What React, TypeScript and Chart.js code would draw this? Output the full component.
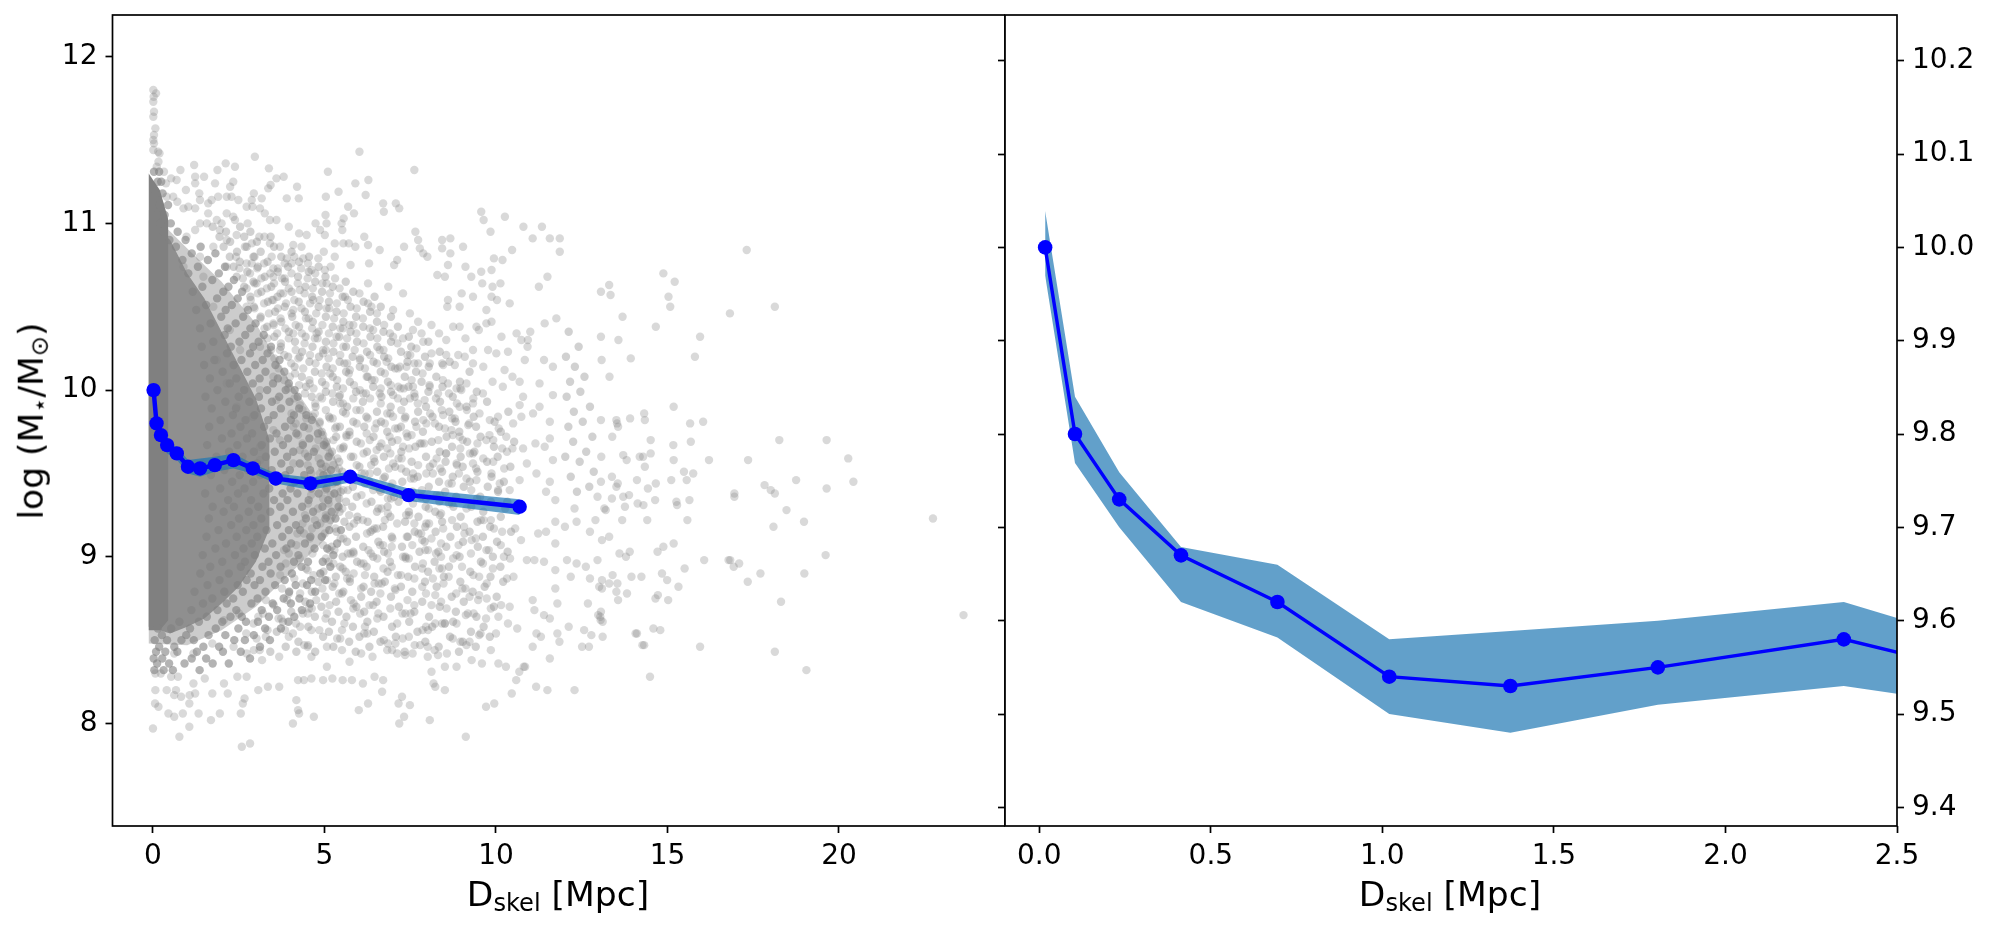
import React, { useEffect, useRef } from "react";
import { Chart, registerables } from "chart.js";

Chart.register(...registerables);

// Mean trend with its uncertainty band
const trendX = [0.017, 0.104, 0.233, 0.413, 0.694, 1.02, 1.373, 1.803, 2.345, 2.91, 3.58, 4.59, 5.75, 7.45, 10.69];
const trendY = [10.0, 9.8, 9.73, 9.67, 9.62, 9.54, 9.53, 9.55, 9.58, 9.53, 9.47, 9.44, 9.48, 9.37, 9.3];
const bandHigh = [10.039, 9.84, 9.759, 9.679, 9.66, 9.58, 9.589, 9.6, 9.62, 9.558, 9.5, 9.475, 9.51, 9.41, 9.345];
const bandLow = [9.97, 9.769, 9.7, 9.62, 9.582, 9.5, 9.48, 9.51, 9.53, 9.5, 9.44, 9.4, 9.445, 9.335, 9.25];

// Tick values
const leftXTicks = [0, 5, 10, 15, 20];
const leftYTicks = [8, 9, 10, 11, 12];
const rightXTicks = [0, 0.5, 1, 1.5, 2, 2.5];
const rightYTicks = [9.4, 9.5, 9.6, 9.7, 9.8, 9.9, 10.0, 10.1, 10.2];

// Individually read galaxies: far-right sparse part
const cloudFar: number[][] = [
[14.88,10.7],[15.21,10.65],[13.3,10.63],[13.06,10.59],[13.34,10.57],[15.03,10.56],[15.08,10.5],[16.82,10.46],[18.13,10.5],[13.69,10.44],[14.66,10.38],[13.06,10.32],[15.95,10.32],[13.57,10.3],[15.8,10.2],[13.93,10.19],[13.08,10.18],[13.31,10.08],[17.31,10.84],
[15.18,9.9],[14.32,9.86],[14.34,9.82],[13.91,9.83],[13.51,9.82],[13.53,9.8],[13.56,9.78],[13.06,9.82],[15.66,9.8],[16.04,9.81],[13.39,9.72],[14.51,9.7],[15.17,9.67],[15.68,9.69],[18.26,9.7],[19.64,9.7],[20.27,9.59],[13.71,9.61],[13.81,9.58],[14.19,9.6],[14.29,9.6],[14.51,9.62],[14.34,9.54],[15.18,9.58],[16.21,9.58],[17.35,9.58],[13.07,9.6],[15.48,9.51],[15.75,9.5],[13.38,9.48],[14.11,9.46],[15.11,9.46],[15.56,9.46],[14.66,9.44],[13.06,9.45],[13.55,9.44],[13.51,9.42],[14.43,9.41],[17.83,9.43],[18.01,9.4],[18.13,9.38],[18.75,9.46],[19.64,9.41],[20.42,9.45],[16.95,9.38],[16.95,9.36],[13.38,9.35],[13.71,9.36],[13.88,9.37],[14.64,9.34],[15.26,9.33],[15.28,9.31],[15.64,9.34],[14.13,9.32],[14.3,9.31],[13.76,9.3],[13.16,9.29],[13.2,9.28],[18.47,9.28],[13.68,9.22],[14.41,9.22],[15.58,9.22],[18.98,9.21],[18.09,9.18],[22.74,9.23],[13.3,9.12],[13.09,9.1],[15.18,9.08],[14.88,9.06],[14.71,9.03],[13.9,9.03],[13.6,9.02],[13.79,9.0],[19.61,9.01],[16.07,8.98],[16.78,8.98],[16.83,8.98],[16.93,8.94],[17.09,8.96],[15.5,8.93],[14.84,8.9],[13.4,8.89],[13.95,8.88],[14.24,8.88],[14.99,8.86],[17.71,8.9],[18.99,8.9],[17.34,8.85],[13.09,8.86],[13.3,8.84],[13.54,8.84],[13.09,8.81],[15.32,8.82],[13.51,8.79],[13.82,8.78],[14.72,8.77],[14.65,8.75],[15.02,8.74],[13.56,8.74],[18.31,8.73],[13.06,8.67],[13.04,8.64],[13.11,8.61],[13.11,8.52],[14.59,8.57],[14.79,8.56],[14.11,8.54],[14.32,8.47],[15.95,8.46],[18.13,8.43],[23.63,8.65],[14.49,8.28],[19.05,8.32],
];

// Upper part of the cloud
const cloudUpper: number[][] = [
[0.01,11.8],[0.09,11.78],[0.02,11.76],[0.01,11.73],[0.03,11.67],[0.01,11.64],[0.07,11.57],[0.03,11.53],[0.01,11.5],[0.03,11.48],[0.01,11.44],[0.15,11.43],[0.19,11.42],[0.16,11.37],[0.11,11.34],
[0.32,11.31],[0.53,11.27],[0.38,11.24],[0.69,11.26],[0.8,11.32],[1.2,11.35],[1.23,11.28],[1.23,11.24],[1.49,11.28],[1.81,11.24],[1.88,11.32],[2.12,11.36],[2.39,11.34],[2.34,11.25],[2.25,11.22],[2.97,11.4],[3.38,11.33],[3.43,11.23],[3.36,11.21],[3.6,11.27],[3.81,11.28],[4.2,11.22],[4.25,11.15],[3.9,11.15],[5.04,11.16],[5.1,11.31],[5.41,11.19],[5.9,11.24],[6.28,11.26],[6.2,11.17],[6.02,11.43],[7.62,11.32],[6.71,11.12],[6.73,11.07],[7.08,11.12],[7.18,11.09],[9.57,11.07],[9.64,11.02],[10.26,11.04],[9.84,10.95],[10.8,10.98],[11.34,10.98],[11.07,10.91],[11.57,10.91],[11.86,10.91],
[0.96,11.2],[0.59,11.16],[0.4,11.16],[0.71,11.13],[0.89,11.09],[1.03,11.1],[1.23,11.09],[1.35,11.18],[1.37,11.14],[1.61,11.12],[1.71,11.14],[1.9,11.16],[2.15,11.16],[2.29,11.16],[2.49,11.14],[2.94,11.18],[2.88,11.14],[3.17,11.15],[2.73,11.1],[2.9,11.1],[3.12,11.09],[3.26,11.06],[3.41,11.02],[3.6,11.02],[2.76,11.0],[2.15,11.06],[2.34,11.04],[2.39,11.02],[1.86,11.02],[2.0,11.0],[1.61,11.06],[1.37,11.0],[1.57,11.0],[1.95,10.96],[2.44,10.93],[2.68,10.86],[2.15,10.9],[0.98,10.92],[1.23,10.96],[3.96,10.98],[4.26,10.94],[4.74,11.0],[5.03,11.05],[5.06,11.0],[5.5,11.0],[5.56,11.03],[5.69,11.1],[5.86,11.06],[5.52,10.96],[5.01,10.93],[4.87,10.96],[4.48,10.93],[4.33,10.86],[4.09,10.87],[3.9,10.79],[3.7,10.86],[3.41,10.88],[3.1,10.92],[3.25,10.92],[2.88,10.88],[6.16,10.92],[6.27,10.87],[6.61,10.84],[7.32,10.86],[7.65,10.95],[7.73,10.9],[7.78,10.85],[7.88,10.82],[8.0,10.8],[8.43,10.9],[8.67,10.91],[8.43,10.85],[8.67,10.82],[9.04,10.86],[10.47,10.84],[9.94,10.79],[10.19,10.78],[11.86,10.83],
[5.3,10.88],[5.55,10.88],[5.71,10.88],[5.9,10.86],[4.98,10.83],[4.82,10.79],[5.3,10.8],[7.12,10.78],[7.03,10.75],[6.3,10.76],[5.76,10.75],[5.01,10.72],[5.18,10.74],[4.38,10.79],[4.62,10.72],[4.04,10.76],[3.51,10.73],
[8.29,10.69],[8.51,10.68],[8.6,10.75],[9.11,10.74],[9.87,10.72],[9.57,10.71],[9.28,10.68],[9.6,10.64],[10.13,10.64],[9.9,10.62],[11.5,10.68],[11.25,10.62],[9.0,10.58],[9.33,10.56],[9.87,10.56],[10.03,10.54],[10.4,10.52],[8.6,10.54],[8.94,10.5],[8.58,10.5],[9.72,10.48],[11.76,10.43],[11.42,10.4],
];

// Middle part of the cloud, around the trend line
const cloudMiddle: number[][] = [
[10.6,10.34],[11.0,10.35],[10.74,10.3],[10.93,10.3],[10.16,10.32],[9.87,10.41],[9.72,10.4],[9.43,10.38],[9.5,10.36],[8.75,10.38],[8.94,10.38],[8.12,10.39],[7.73,10.41],[7.58,10.36],[8.34,10.34],[8.55,10.3],[9.11,10.31],[7.88,10.29],[9.33,10.24],[9.77,10.24],[10.01,10.22],[10.35,10.23],[10.92,10.26],[8.55,10.21],[8.9,10.21],[9.09,10.2],[8.12,10.22],[7.68,10.25],[7.39,10.14],[7.73,10.16],[8.07,10.16],[8.46,10.15],[8.8,10.15],[9.33,10.16],[9.63,10.14],[10.25,10.12],[10.84,10.18],[11.4,10.18],[11.66,10.14],[10.48,10.08],[10.69,10.05],[9.9,10.05],[9.14,10.04],[8.6,10.04],[8.07,10.02],[7.58,10.02],[7.15,10.02],[10.2,10.02],[11.27,10.04],[11.66,9.97],[10.79,9.96],[9.62,9.98],[8.99,10.0],[8.85,10.01],[8.31,9.98],[7.92,9.94],[7.49,9.95],[7.0,9.97],[9.33,9.92],[10.69,9.91],[11.27,9.9],[11.08,9.86],[11.57,9.81],[10.74,9.84],[10.06,9.84],[10.5,9.8],[9.82,9.82],[8.94,9.9],[8.46,9.85],[7.88,9.82],[7.39,9.74],[7.68,9.78],[8.22,9.8],[8.7,9.76],[9.19,9.79],[9.72,9.7],[9.92,9.7],[10.3,9.72],[11.15,9.68],[11.42,9.66],[11.57,9.71],[10.79,9.65],[10.48,9.65],[10.32,9.63],[8.55,9.62],[9.33,9.62],[8.94,9.72],[7.78,9.68],[8.17,9.56],[8.85,9.56],[9.33,9.56],[9.92,9.57],[10.9,9.56],[11.66,9.58],[10.69,9.46],[11.18,9.5],[10.4,9.4],[11.57,9.45],[10.11,9.44],[7.97,9.5],[9.43,9.46],
[3.51,10.54],[4.09,10.48],[4.67,10.54],[5.06,10.64],[5.6,10.56],[6.27,10.64],[6.86,10.62],[7.29,10.58],[7.49,10.46],[7.0,10.48],[6.37,10.5],[5.84,10.39],[6.42,10.36],[7.0,10.32],[7.29,10.31],[5.35,10.32],[4.77,10.34],[4.09,10.34],[3.51,10.4],[3.12,10.26],[3.7,10.24],[4.28,10.2],[4.96,10.22],[5.55,10.26],[6.03,10.18],[6.61,10.24],[7.2,10.14],[6.81,10.17],[6.23,10.08],[5.74,10.12],[5.16,10.1],[4.57,10.04],[3.99,10.08],[3.51,10.08],[3.12,10.0],[3.6,9.94],[4.28,9.91],[4.87,9.96],[5.45,9.97],[6.03,10.0],[6.61,9.98],[7.0,9.84],[6.52,9.8],[5.93,9.88],[5.35,9.78],[4.67,9.84],[4.09,9.78],[3.51,9.76],[2.92,9.84],[2.44,9.9],[2.15,10.04],[1.86,10.18],[2.54,10.24],[2.24,10.36],[2.73,10.5],[3.02,10.64],[3.51,10.68],[4.28,10.6],[1.76,10.5],[1.47,10.68],[2.15,10.74],[2.88,10.76],[0.89,10.74],[1.37,10.8],[1.76,10.86],[3.12,9.66],[3.7,9.7],[4.28,9.64],[5.06,9.66],[5.64,9.72],[6.23,9.74],[6.9,9.72],[7.29,9.66],[6.52,9.64],[5.84,9.6],[7.0,9.56],[7.58,9.5],[6.32,9.5],[4.87,9.5],[4.09,9.56],[3.12,9.58],[5.55,9.4],[6.61,9.4],
];

// Lower part of the cloud
const cloudLower: number[][] = [
[0,7.97],[0.77,7.92],[1.06,7.98],[2.59,7.86],[2.83,7.88],[4.08,8.0],[4.69,8.04],[4.26,8.06],[4.23,8.08],[4.18,8.14],[6.0,8.08],[6.27,8.12],[7.18,8.0],[7.32,8.04],[8.07,8.02],[7.16,8.12],[7.26,8.16],[7.49,8.11],[9.12,7.92],[9.71,8.1],[9.95,8.12],[10.46,8.18],[8.51,8.2],[8.18,8.24],[8.23,8.22],[11.17,8.22],[11.5,8.2],[12.29,8.2],[10.59,8.26],[10.68,8.31],[10.81,8.34],[0.45,8.06],[0.62,8.04],[0.87,8.06],[1.33,8.06],[1.69,8.02],[1.95,8.06],[2.56,8.06],[2.62,8.12],[2.67,8.15],[0.07,8.2],[0.06,8.12],[0.16,8.1],[0.4,8.2],[0.67,8.2],[0.62,8.17],[0.82,8.16],[1.06,8.12],
[11.07,8.74],[11.12,8.68],[11.4,8.65],[11.57,8.63],[11.79,8.72],[12.68,8.72],[12.98,8.65],[13.05,8.62],[12.12,8.58],[12.57,8.56],[12.78,8.53],[11.18,8.54],[11.31,8.52],[11.79,8.54],[11.85,8.49],[12.51,8.46],[12.71,8.46],[14.07,8.54],[14.27,8.47],[11.57,8.39],[11.07,8.46],[10.85,8.34],[11.73,9.08],[11.23,9.14],[11.46,9.15],[12.35,9.21],[12.01,9.18],[12.74,9.15],[11.73,9.21],[12.29,9.29],[12.9,9.22],[11.73,9.34],[11.46,9.39],[12.96,9.36],[12.96,8.98],[12.07,8.98],[12.35,8.96],[12.62,8.94],[11.73,8.92],[11.4,8.97],[11.12,8.98],[10.9,8.98],[11.73,8.81],[12.18,8.88],[12.74,8.87],[13.01,8.82],
[7.07,8.8],[7.62,8.71],[7.51,8.66],[8.23,8.77],[8.4,8.73],[7.96,8.58],[8.23,8.6],[8.51,8.6],[8.85,8.6],[9.12,8.65],[9.35,8.66],[9.23,8.76],[9.51,8.77],[9.73,8.75],[9.85,8.69],[10.07,8.64],[10.35,8.6],[10.62,8.57],[10.0,8.54],[9.51,8.53],[9.23,8.49],[8.96,8.49],[9.85,8.44],[10.07,8.36],[10.29,8.34],[9.29,8.38],[9.59,8.36],[8.85,8.34],[8.57,8.42],[8.31,8.41],[8.01,8.46],[7.79,8.47],[8.01,8.4],[8.12,8.31],[8.51,8.34],[7.57,8.42],[7.35,8.41],[7.12,8.42],[6.85,8.48],[6.73,8.5],[7.07,8.48],[7.46,8.52],[6.71,8.26],[6.46,8.28],[6.68,8.19],[6.12,8.24],[5.8,8.26],[5.53,8.26],[5.23,8.27],[4.96,8.26],[4.62,8.27],[4.4,8.26],[4.23,8.26],[3.68,8.22],[3.35,8.22],[3.07,8.2],[2.73,8.28],[2.46,8.28],[2.18,8.18],[1.73,8.18],[1.23,8.18],[1.07,8.17],[2.07,8.24],[1.51,8.27],[1.18,8.24],[0.07,8.3],[0.23,8.3],[0.53,8.28],[0.73,8.28],
[4.62,8.4],[5.07,8.34],[5.51,8.44],[5.07,8.46],[5.73,8.37],[6.07,8.42],[6.4,8.4],[4.51,8.46],[3.96,8.52],[3.68,8.4],[3.18,8.38],[2.73,8.42],[2.35,8.46],[1.73,8.48],[1.18,8.42],[0.62,8.42],[3.29,8.52],[4.29,8.58],[4.85,8.56],[5.51,8.56],[6.18,8.58],[6.57,8.66],[5.85,8.72],[5.07,8.66],[4.51,8.66],[3.85,8.56],[3.07,8.64],[2.51,8.66],[2.07,8.62],[6.96,8.94],[7.29,9.0],[7.85,8.93],[8.4,9.0],[8.85,9.01],[9.01,8.94],[9.51,8.88],[10.23,9.0],[10.51,8.88],[10.4,8.7],[8.62,8.88],[7.85,8.82],[6.46,8.84],[5.85,8.9],[5.29,9.04],[5.85,9.02],[6.35,9.02],[6.4,9.16],[6.96,9.06],[7.4,9.12],[7.85,9.1],[8.4,9.08],[9.29,9.1],[9.79,9.04],[10.18,9.15],[10.73,9.1],[9.85,9.22],[9.07,9.18],[8.4,9.26],[7.62,9.2],[6.85,9.26],[5.96,9.22],[5.07,9.24],[4.4,9.14],[3.96,9.02],[4.51,8.92],[5.07,8.86],[3.96,8.78],[3.29,8.74],
];

// Crowded zone: estimated, irregular rows following the picture's local density ([y, x, x, ...])
const crowdedRows: number[][] = [
[8.32,0.04,0.31,0.58,1.36],[8.36,0.12,0.47,0.92,1.74,2.21],[8.39,0.02,0.27,1.13,1.55,2.83],[8.43,0.09,0.36,0.71,1.28,2.04,2.56],[8.46,0.18,0.62,1.47,1.93,3.12],[8.5,0.05,0.41,0.83,1.19,2.37,2.68,3.41],[8.53,0.26,0.97,1.62,2.11,2.94],[8.57,0.14,0.53,1.08,1.83,2.49,3.27,3.73],[8.61,0.77,1.34,2.02,2.71,3.06,3.95],[8.64,1.57,2.26,2.59,3.38,4.12],[8.68,1.12,1.88,2.43,3.17,3.62,4.34],[8.72,1.46,2.15,2.87,3.49,4.02,4.58],[8.75,1.73,2.34,3.05,3.81,4.27],[8.79,1.21,2.08,2.62,3.28,3.97,4.73],[8.83,1.59,2.47,2.96,3.56,4.16,4.49],[8.86,1.94,2.73,3.12,3.84,4.61,5.02],[8.9,1.38,2.21,2.85,3.43,4.05,4.88],[8.94,1.67,2.56,3.19,3.72,4.33,5.17],[8.97,2.02,2.68,3.37,4.11,4.52,4.95],[9.01,1.45,2.39,2.97,3.59,4.24,5.26],[9.05,1.82,2.64,3.26,3.89,4.71,5.08],[9.08,2.13,2.88,3.48,4.03,4.43,5.37],[9.12,1.56,2.44,3.04,3.77,4.59,4.92],[9.16,1.91,2.72,3.31,3.96,4.29,5.14,5.48],[9.19,2.28,2.93,3.62,4.17,4.78],[9.23,1.63,2.51,3.16,3.83,4.46,5.03,5.32],[9.27,2.06,2.79,3.42,4.08,4.67,5.21],[9.3,1.74,2.36,3.07,3.71,4.35,4.94,5.41],[9.34,2.19,2.86,3.53,3.92,4.54,5.11],[9.38,1.52,2.48,3.22,3.78,4.21,4.83,5.29],[9.41,1.96,2.67,3.39,4.01,4.62,5.06],[9.45,2.31,2.92,3.58,4.14,4.76,5.35],[9.49,1.69,2.53,3.13,3.86,4.41,4.97],[9.52,2.08,2.77,3.46,3.99,4.58,5.19],[9.56,1.43,2.38,3.03,3.74,4.28,4.89],[9.6,1.85,2.61,3.29,3.91,4.52,5.12],[9.63,2.22,2.94,3.55,4.09,4.69],[9.67,1.58,2.46,3.17,3.79,4.37,4.98],[9.71,2.01,2.74,3.41,3.94,4.56],[9.74,2.29,2.89,3.6,4.18,4.81],[9.78,1.64,2.55,3.24,3.85,4.4],[9.82,1.97,2.7,3.36,4.02,4.63],[9.85,2.33,2.96,3.52,4.11,4.47],[9.89,1.71,2.42,3.15,3.73,4.26],[9.93,2.11,2.81,3.47,3.98],[9.96,1.53,2.5,3.09,3.68,4.22],[10.0,1.88,2.66,3.33,3.87,4.13],[10.04,2.24,2.91,3.5,3.96],[10.07,1.66,2.43,3.11,3.64],[10.11,2.03,2.75,3.28,3.83],[10.15,1.49,2.35,2.98,3.57],[10.18,1.79,2.58,3.2,3.69],[10.22,2.16,2.83,3.34],[10.26,1.42,2.27,2.92,3.44],[10.29,1.76,2.52,3.08],[10.33,2.09,2.69,3.23],[10.37,1.37,2.18,2.84],[10.4,1.68,2.41,2.99],[10.44,1.99,2.63],[10.48,1.26,2.12,2.77],[10.51,1.55,2.3],[10.55,1.87,2.47],[10.59,1.16,2.05,2.6],[10.62,1.44,2.2],[10.66,1.73,2.36],[10.7,1.03,1.92],[10.74,1.31,2.1],[10.78,0.86,1.6],[10.82,1.13,1.82],[10.86,0.67,1.39],[10.9,0.48,0.95],[10.95,0.31,0.72],[11.0,0.21,0.52],[11.05,0.1,0.34],[11.11,0.2,0.44],[11.18,0.08,0.28],[11.25,0.14,0.24],[11.31,0.03,0.18],
];

// Mid-density zone: estimated the same way
const spreadRows: number[][] = [
[8.43,3.42,4.18,4.73,5.91,7.34,8.92],[8.46,3.87,5.26,6.31,8.33,9.41],[8.49,4.24,5.72,6.63,7.94,9.03],[8.52,4.96,6.02,7.08,8.66,9.82],[8.55,3.61,5.13,6.44,7.71,9.27],[8.58,4.53,5.83,6.97,8.14,9.64],[8.61,3.79,5.22,6.25,7.47,8.75],[8.64,4.72,5.64,6.72,8.05,9.43],[8.67,4.03,5.41,6.16,7.62,8.83],[8.7,4.91,5.93,7.17,8.36,9.94],[8.73,4.44,5.34,6.52,7.85,9.06],[8.76,5.02,6.07,6.94,8.71,10.02],[8.79,4.63,5.55,6.36,7.56,9.32],[8.82,5.24,6.14,7.23,8.27,9.67],[8.85,4.82,5.74,6.76,7.93,8.96,10.21],[8.88,5.33,6.45,7.44,8.48,9.84],[8.91,4.97,5.62,6.84,8.02,9.25],[8.94,5.46,6.23,7.64,8.63,10.13],[8.97,5.12,5.95,6.91,8.21,9.56],[9.0,5.53,6.42,7.36,8.94,9.91],[9.03,5.84,6.74,7.77,8.32,10.34],[9.06,5.21,6.13,7.26,8.55,9.47],[9.09,5.66,6.57,7.92,9.04,10.03],[9.12,5.92,6.96,7.43,8.67,9.62],[9.15,5.35,6.34,7.63,8.24,9.23,10.44],[9.18,5.73,6.71,7.94,8.86,9.83],[9.21,5.58,6.26,7.35,8.43,9.46],[9.24,5.96,6.92,7.74,8.97,10.14],[9.27,5.44,6.53,7.46,8.23,9.63],[9.3,5.81,6.84,7.95,8.76,9.28],[9.33,5.63,6.37,7.16,8.35,9.85,10.33],[9.36,5.94,7.03,7.82,8.84,9.54],[9.39,5.47,6.64,7.57,8.52,10.06,12.36],[9.42,5.83,6.93,8.04,9.06,9.76,12.72],[9.45,5.36,6.31,7.27,8.34,9.24,10.23],[9.48,5.75,6.76,7.72,8.74,9.87,12.18],[9.51,5.52,6.54,7.38,8.43,9.46,12.85],[9.54,5.04,6.02,7.06,8.07,9.03,10.42],[9.57,5.43,6.46,7.54,8.53,9.74,12.44],[9.6,5.77,6.73,7.96,8.97,10.05,12.02],[9.63,5.22,6.24,7.24,8.36,9.37,12.63],[9.66,5.56,6.61,7.65,8.72,9.94],[9.69,5.06,5.94,6.97,8.13,9.16,10.53,12.25],[9.72,5.34,6.43,7.42,8.56,9.55,12.81],[9.75,4.92,5.73,6.83,7.87,8.93,10.14],[9.78,5.45,6.16,7.23,8.34,9.42,12.11],[9.81,4.86,5.84,6.65,7.64,8.82,9.96,12.53],[9.84,5.13,6.22,7.36,8.15,9.35],[9.87,5.54,6.53,7.73,8.64,10.36,12.27],[9.9,4.74,5.66,6.93,7.96,9.14,12.74],[9.93,5.25,6.12,7.32,8.37,9.74],[9.96,4.63,5.43,6.66,7.63,8.74,12.06],[9.99,5.04,5.92,6.94,8.03,9.44,12.46],[10.02,4.46,5.36,6.42,7.45,8.44],[10.05,4.93,5.74,6.85,7.83,8.95,12.16],[10.08,4.34,5.24,6.26,7.34,8.26,12.58],[10.11,4.72,5.63,6.64,7.67,9.23],[10.14,4.13,5.06,6.03,6.95,8.04,12.3],[10.17,4.56,5.44,6.43,7.42,8.65],[10.2,3.94,4.84,5.82,6.74,7.93,12.04],[10.23,4.35,5.26,6.24,7.23,8.36],[10.26,3.73,4.65,5.63,6.54,7.53,12.41],[10.29,4.14,5.04,5.95,6.94,8.03],[10.32,3.54,4.45,5.43,6.34,7.46],[10.35,3.96,4.83,5.76,6.72,12.12],[10.38,3.33,4.26,5.24,6.13,7.14],[10.41,3.74,4.66,5.55,6.53],[10.44,3.14,4.06,5.04,5.92,6.94],[10.47,3.56,4.43,5.35,6.33],[10.5,2.94,3.84,4.83,5.76,6.64],[10.53,3.35,4.25,5.13,6.14],[10.56,2.84,3.63,4.64,5.53,6.46],[10.59,3.16,4.04,4.93,5.84],[10.62,2.66,3.45,4.44,5.24],[10.65,2.93,3.85,4.73,5.62],[10.68,2.44,3.26,4.23,5.03],[10.71,2.75,3.64,4.54],[10.74,2.35,3.06,3.94,4.83],[10.77,2.53,3.34,4.26],[10.8,2.24,2.93,3.74,4.55],[10.83,2.45,3.14,4.04],[10.86,2.06,2.73,3.53],[10.89,2.25,3.03],[10.92,1.94,2.66,3.43],[10.95,2.13,2.84],[10.98,1.74,2.54],
];

// Further estimated rows that fill the mid zone, deliberately uneven, with clumps and gaps
const clumpRows: number[][] = [
[8.44,2.94,3.11,6.83,6.97,8.21],[8.47,4.41,4.52,7.63,9.14],[8.51,3.02,5.37,5.46,7.28,8.74],[8.54,2.72,4.08,6.16,6.25,9.55],[8.56,3.34,4.62,7.86,8.02],[8.6,2.93,4.17,5.58,7.12,8.43,8.51],[8.63,3.66,3.74,5.03,6.54,9.71],[8.66,3.21,4.37,6.04,7.27,7.36,9.18],[8.69,4.55,4.63,5.84,6.92,8.56],[8.71,3.52,5.15,6.31,6.42,8.12,10.15],[8.74,3.91,4.76,5.77,7.42,9.48],[8.78,4.29,5.43,5.51,6.63,7.96,8.84],[8.81,3.76,4.94,6.07,7.05,9.02,9.11],[8.84,4.37,5.29,6.58,6.67,8.47,9.73],[8.87,4.12,5.66,5.74,7.62,8.16,10.32],[8.89,3.71,4.68,6.18,7.14,7.23,9.34],[8.93,4.46,5.53,6.72,8.35,8.43,9.91],[8.96,3.87,5.26,6.06,6.14,7.87,9.62],[8.99,4.28,5.04,6.54,7.37,7.46,8.75,10.41],[9.02,4.65,5.68,5.76,6.85,8.25,9.27],[9.04,3.82,5.15,6.28,7.94,8.02,9.72],[9.07,4.18,4.96,6.62,6.71,7.56,8.91,10.14],[9.11,4.57,5.47,5.55,6.98,8.12,9.41],[9.14,4.21,5.01,6.24,7.74,7.82,9.08],[9.17,4.64,5.32,6.46,6.53,8.46,9.94,10.56],[9.2,4.36,4.88,5.86,7.12,7.97,8.05],[9.22,4.72,5.17,6.12,6.76,8.72,9.56,9.64],[9.25,4.43,5.04,5.72,7.38,7.47,8.36],[9.29,4.81,5.52,6.57,6.66,8.04,9.14,10.27],[9.32,4.52,5.12,6.23,7.58,8.63,8.72],[9.35,4.96,5.43,6.85,6.94,7.96,9.45],[9.37,4.61,5.18,6.08,7.29,8.27,8.36],[9.4,5.02,5.68,6.42,7.84,9.28,10.06],[9.44,4.73,5.24,6.18,6.98,8.62,8.71],[9.47,5.14,5.86,6.72,7.52,7.61,9.14],[9.5,4.62,5.08,6.09,6.17,8.16,8.92,9.87],[9.53,4.94,5.42,6.88,7.24,8.38,9.42,10.24],[9.55,4.51,5.26,5.94,6.36,7.73,8.86],[9.59,4.83,5.38,6.44,7.16,7.25,8.27,9.63],[9.62,4.43,5.16,6.14,6.92,8.54,9.24],[9.65,4.74,5.46,5.54,6.83,7.47,8.96,10.18],[9.68,4.36,5.03,6.06,6.66,7.83,7.91,9.46],[9.7,4.82,5.26,6.32,7.13,8.32,9.03],[9.73,4.23,4.96,5.64,5.73,7.54,8.74,9.81],[9.77,4.54,5.31,6.47,7.06,7.14,8.51,10.08],[9.8,4.16,4.86,5.94,6.76,7.97,9.22],[9.83,4.47,5.16,5.24,6.26,7.34,8.72,8.8],[9.86,4.04,4.72,5.62,6.83,6.92,8.08,9.52],[9.88,4.36,5.04,6.04,7.24,8.42,9.15],[9.92,4.73,5.46,5.54,6.64,7.72,8.86],[9.95,4.12,4.93,5.84,6.33,7.14,8.25,9.34],[9.98,4.43,5.23,6.13,6.21,7.62,8.63],[10.01,3.94,4.68,5.54,6.64,7.22,7.31,8.96],[10.03,4.26,5.03,5.86,6.93,8.06],[10.06,3.82,4.56,5.37,6.38,6.46,7.54,8.45],[10.1,4.14,4.92,5.71,6.76,7.86],[10.13,3.66,4.38,5.24,6.18,7.06,7.14],[10.16,4.03,4.74,5.58,5.66,6.53,7.62,8.43],[10.19,3.54,4.24,5.12,6.04,6.86],[10.21,3.83,4.58,5.46,6.33,7.42,7.5],[10.24,3.44,4.16,4.96,5.04,5.88,6.72],[10.28,3.73,4.42,5.26,6.14,7.13],[10.31,3.34,3.96,4.72,4.8,5.66,6.54],[10.34,3.62,4.34,5.13,5.93,6.91,7.83],[10.37,3.25,3.86,4.64,5.46,5.54,6.32],[10.39,3.52,4.16,4.94,5.73,6.74],[10.43,3.13,3.72,4.46,4.54,5.28,6.12],[10.46,3.38,4.04,4.76,5.56,6.53],[10.49,2.96,3.64,4.33,5.06,5.14,5.94],[10.52,3.24,3.88,4.58,5.36,6.27],[10.54,2.85,3.47,4.12,4.86,5.68],[10.58,3.06,3.72,3.8,4.42,5.16,6.02],[10.61,2.73,3.32,3.96,4.66,5.44],[10.64,2.96,3.53,4.22,4.94],[10.67,2.62,3.16,3.76,3.84,4.51,5.31],[10.7,2.83,3.42,4.04,4.73],[10.73,2.52,3.04,3.64,4.32],[10.76,2.73,3.24,3.84,4.52],[10.8,2.42,2.96,3.46,4.12],
];

// Solid regions where dots merge completely
const columnX = [-0.13, 0.2, 0.45];
const columnHigh = [11.3, 11.2, 11.02];
const columnLow = [8.56, 8.56, 8.62];
const coreX = [-0.13, 0.5, 1, 1.5, 2, 2.5, 3, 3.4];
const coreHigh = [11.02, 10.9, 10.7, 10.55, 10.35, 10.15, 9.95, 9.7];
const coreLow = [8.58, 8.54, 8.58, 8.63, 8.72, 8.82, 8.97, 9.17];
const hazeX = [-0.13, 1, 2, 3, 4, 5, 5.5];
const hazeHigh = [11.08, 10.85, 10.65, 10.4, 10.05, 9.75, 9.5];
const hazeLow = [8.48, 8.47, 8.56, 8.7, 8.9, 9.1, 9.3];

const FONT = "'DejaVu Sans'";
const xy = (xs: number[], ys: number[]) => xs.map((x, i) => ({ x, y: ys[i] }));
const fromRows = (rows: number[][]) => rows.flatMap(([y, ...xs]) => xs.map((x) => ({ x, y })));

const spines = {
  id: "spines",
  afterDraw(chart: any) {
    const { ctx, chartArea: a } = chart;
    ctx.save();
    ctx.strokeStyle = "#000";
    ctx.lineWidth = 1.7;
    ctx.strokeRect(a.left, a.top, a.right - a.left, a.bottom - a.top);
    ctx.restore();
  },
};

const gridOpts = { display: true, drawOnChartArea: false, drawTicks: true, tickLength: 7, tickColor: "#000", tickWidth: 1.7 };
const axisBase = (values: number[], fmt: (v: number) => string, size: (s: any) => void, padding: number) => ({
  type: "linear" as const,
  grid: gridOpts,
  border: { display: false },
  afterBuildTicks: (s: any) => { s.ticks = values.map((value) => ({ value })); },
  afterFit: (s: any) => {
    size(s);
    s.paddingTop = 0; s.paddingBottom = 0; s.paddingLeft = 0; s.paddingRight = 0;
  },
  ticks: {
    color: "#000",
    padding,
    autoSkip: false,
    maxRotation: 0,
    font: { family: FONT, size: 28 },
    callback: (v: any) => fmt(Number(v)),
  },
});

const fillPair = (xs: number[], hi: number[], lo: number[], color: string, order: number) => [
  { data: xy(xs, hi), fill: "+1", backgroundColor: color, borderWidth: 0, pointRadius: 0, order },
  { data: xy(xs, lo), fill: false, borderWidth: 0, pointRadius: 0, order },
];

const baseOptions = {
  animation: false as const,
  responsive: false,
  events: [] as string[],
  plugins: { legend: { display: false }, tooltip: { enabled: false } },
};

export default function App() {
  const leftRef = useRef<HTMLCanvasElement>(null);
  const rightRef = useRef<HTMLCanvasElement>(null);

  useEffect(() => {
    const cloud = [...cloudFar, ...cloudUpper, ...cloudMiddle, ...cloudLower].map(([x, y]) => ({ x, y }));
    const band = "rgba(31,119,180,0.7)";
    const dots = (data: any[], alpha: number, order: number) => ({
      data, showLine: false, pointRadius: 4.2, pointBorderWidth: 0, pointBackgroundColor: `rgba(128,128,128,${alpha})`, order,
    });

    const left = new Chart(leftRef.current!, {
      type: "line",
      data: {
        datasets: [
          { data: xy(trendX, trendY), borderColor: "#0000ff", backgroundColor: "#0000ff", borderWidth: 4.5, pointRadius: 7.2, pointBorderWidth: 0, order: 0 },
          ...fillPair(trendX, bandHigh, bandLow, band, 1),
          dots(cloud, 0.3, 2),
          dots(fromRows(clumpRows), 0.3, 3),
          dots(fromRows(spreadRows), 0.36, 4),
          dots(fromRows(crowdedRows), 0.6, 5),
          ...fillPair(columnX, columnHigh, columnLow, "rgba(128,128,128,1)", 6),
          ...fillPair(coreX, coreHigh, coreLow, "rgba(128,128,128,0.8)", 7),
          ...fillPair(hazeX, hazeHigh, hazeLow, "rgba(128,128,128,0.4)", 8),
        ] as any,
      },
      options: {
        ...baseOptions,
        layout: { autoPadding: false, padding: { top: 15, left: 0, right: 0, bottom: 0 } },
        scales: {
          x: { ...axisBase(leftXTicks, (v) => String(v), (s) => { s.height = 104; }, 7), min: -1.18, max: 24.84 },
          y: { ...axisBase(leftYTicks, (v) => String(v), (s) => { s.width = 112.5; }, 8), min: 7.385, max: 12.25 },
        },
      } as any,
      plugins: [spines],
    });

    const right = new Chart(rightRef.current!, {
      type: "line",
      data: {
        datasets: [
          { data: xy(trendX, trendY), yAxisID: "y", borderColor: "#0000ff", backgroundColor: "#0000ff", borderWidth: 3.4, pointRadius: 7.3, pointBorderWidth: 0, order: 0 },
          { data: xy(trendX, bandHigh), yAxisID: "y", fill: "+1", backgroundColor: band, borderWidth: 0, pointRadius: 0, order: 1 },
          { data: xy(trendX, bandLow), yAxisID: "y", fill: false, borderWidth: 0, pointRadius: 0, order: 1 },
        ] as any,
      },
      options: {
        ...baseOptions,
        layout: { autoPadding: false, padding: { top: 15, left: 0, right: 0, bottom: 0 } },
        scales: {
          x: { ...axisBase(rightXTicks, (v) => v.toFixed(1), (s) => { s.height = 104; }, 7), min: -0.1, max: 2.5 },
          y: { ...axisBase(rightYTicks, (v) => v.toFixed(1), (s) => { s.width = 97; }, 8), position: "right", min: 9.38, max: 10.249 },
          yL: { ...axisBase(rightYTicks, () => "", (s) => { s.width = 20; }, 0), position: "left", min: 9.38, max: 10.249, ticks: { display: false } },
        },
      } as any,
      plugins: [spines],
    });

    return () => { left.destroy(); right.destroy(); };
  }, []);

  const labelStyle: React.CSSProperties = { position: "absolute", fontFamily: FONT, fontSize: 34.5, color: "#000", whiteSpace: "nowrap", lineHeight: 1 };
  const sub: React.CSSProperties = { fontSize: "70%", position: "relative", top: "0.2em" };

  return (
    <div style={{ position: "absolute", left: 0, top: 0, width: 1994, height: 930, background: "#fff", overflow: "hidden" }}>
      <canvas ref={leftRef} width={1005} height={930} style={{ position: "absolute", left: 0, top: 0 }} />
      <canvas ref={rightRef} width={1009} height={930} style={{ position: "absolute", left: 985, top: 0 }} />
      <div style={{ ...labelStyle, left: 558, top: 894, transform: "translate(-50%,-50%)" }}>D<span style={sub}>skel</span> [Mpc]</div>
      <div style={{ ...labelStyle, left: 1450, top: 894, transform: "translate(-50%,-50%)" }}>D<span style={sub}>skel</span> [Mpc]</div>
      <div style={{ ...labelStyle, left: 31, top: 421, transform: "translate(-50%,-50%) rotate(-90deg)" }}>log (M<span style={sub}>⋆</span>/M<span style={sub}>⊙</span>)</div>
    </div>
  );
}
